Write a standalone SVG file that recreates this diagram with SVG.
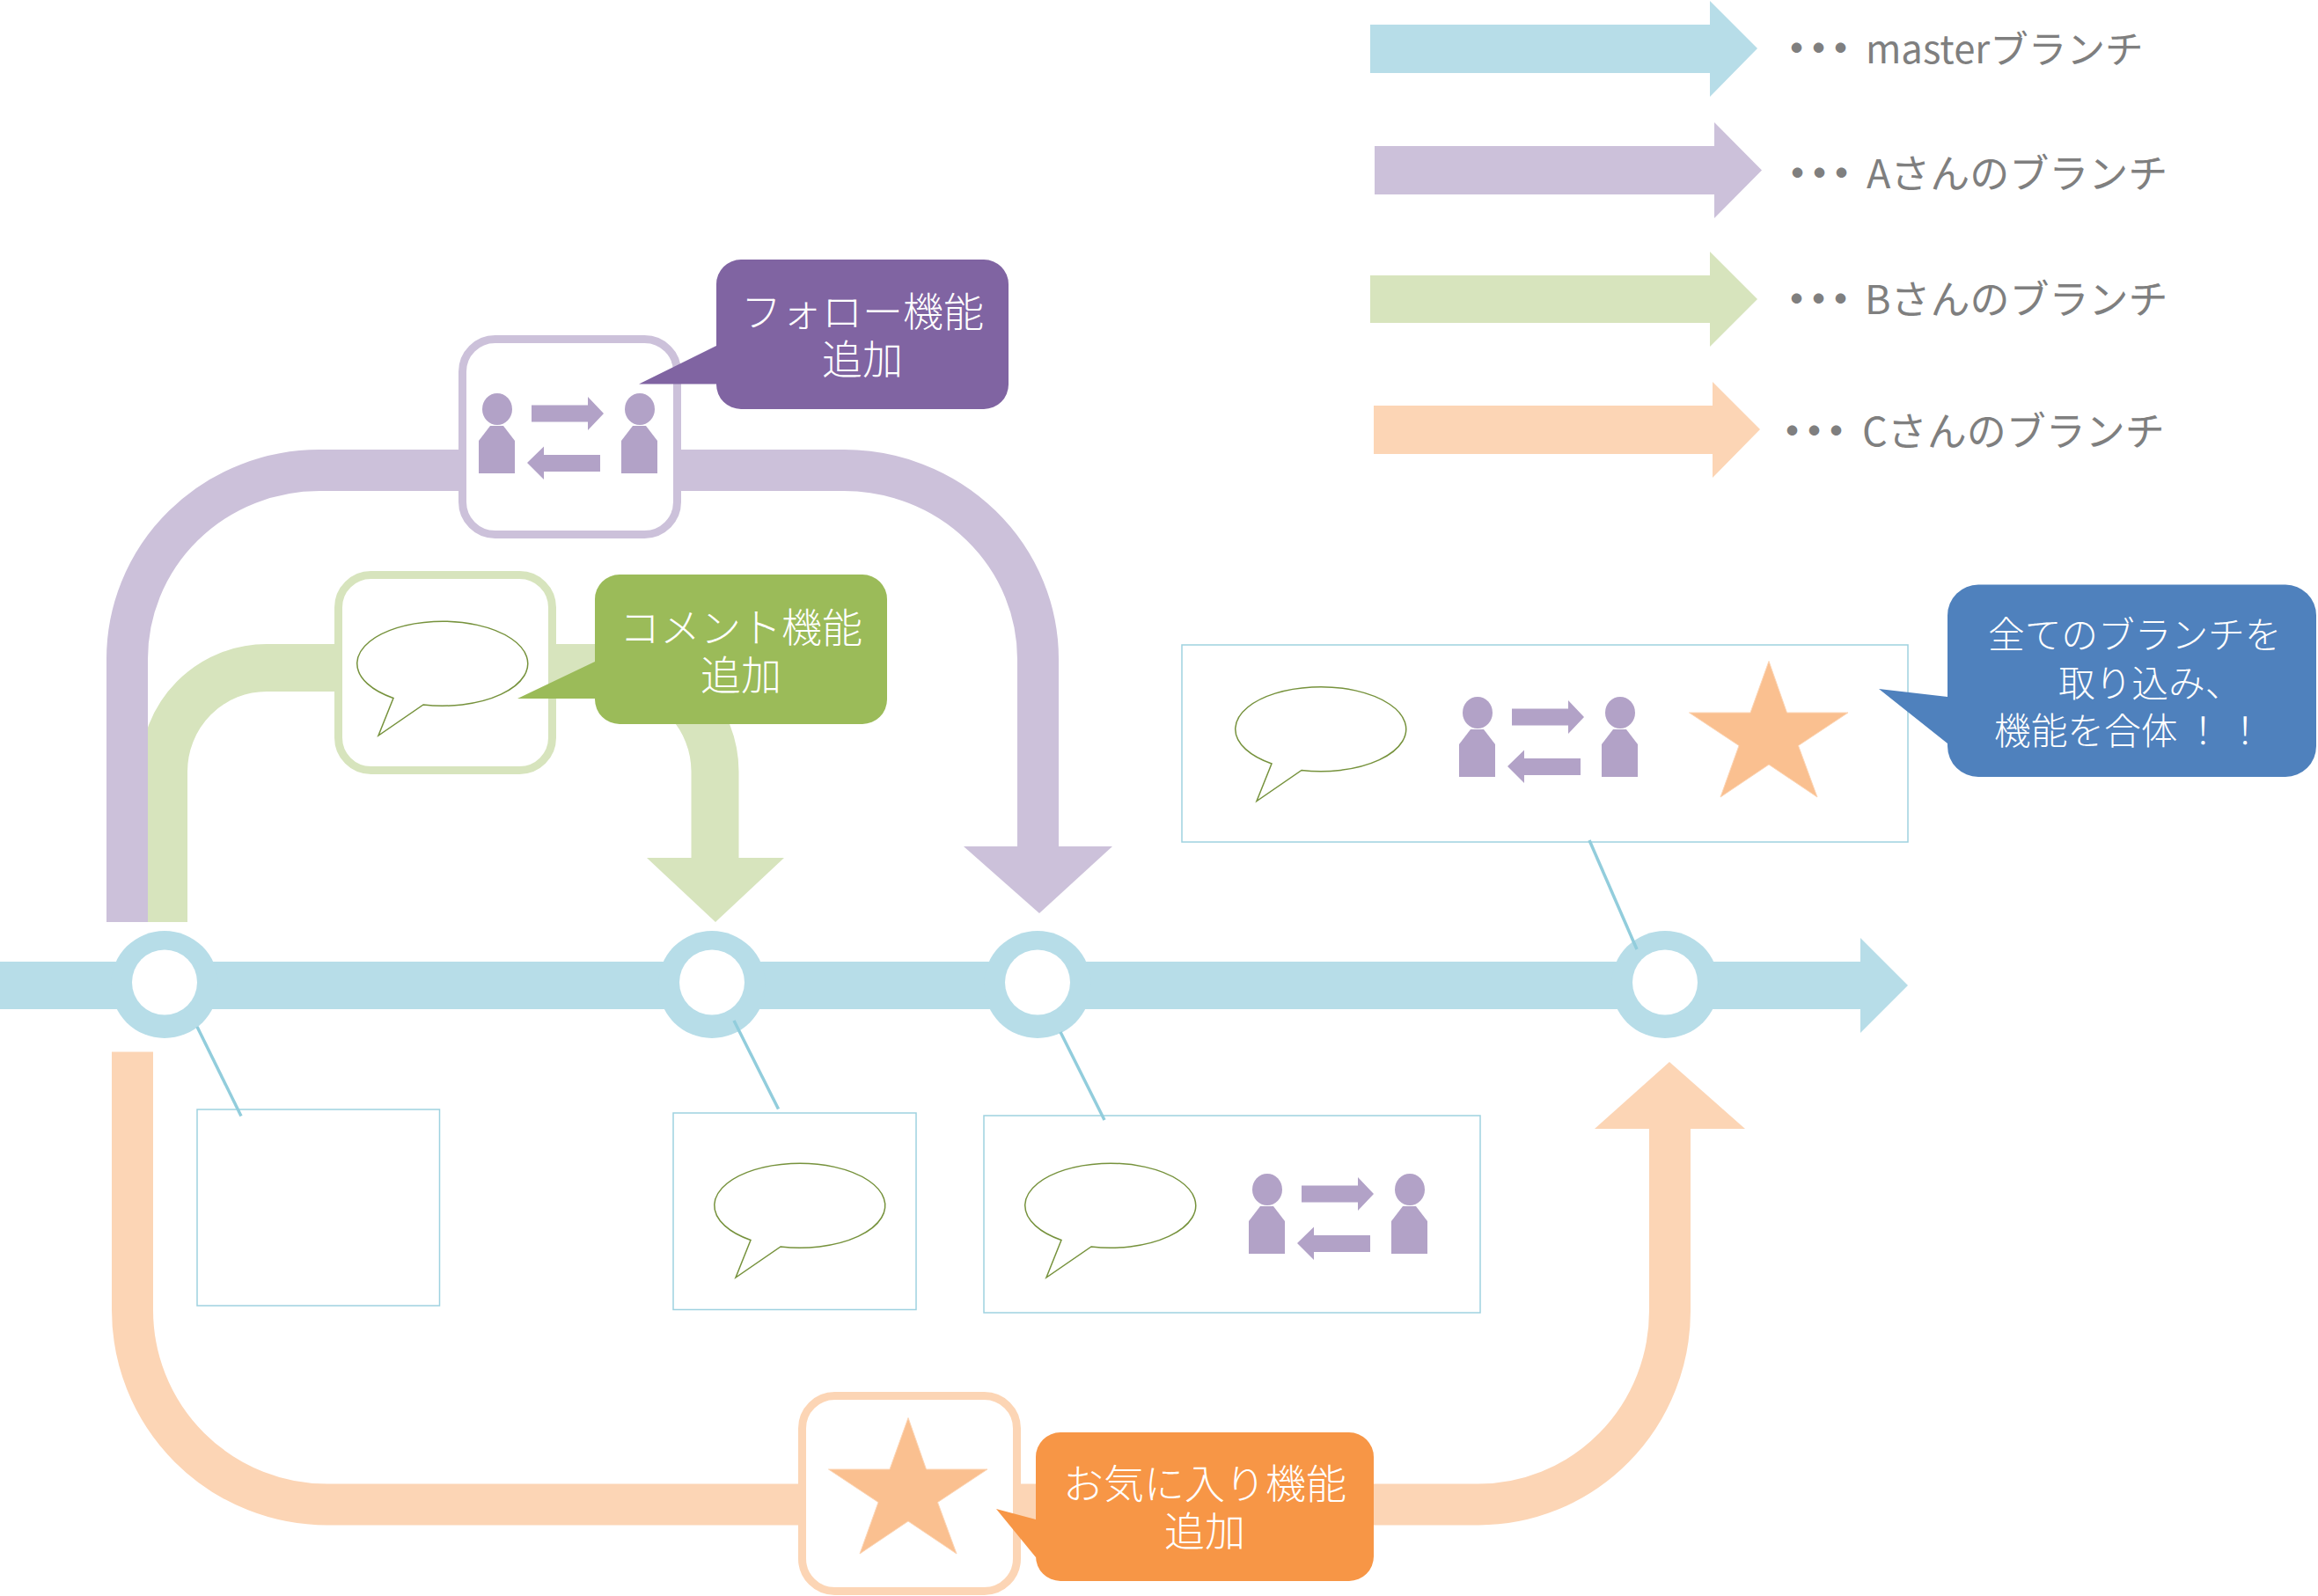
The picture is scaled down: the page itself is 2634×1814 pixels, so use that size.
<svg xmlns="http://www.w3.org/2000/svg" xmlns:xlink="http://www.w3.org/1999/xlink" width="2634" height="1814" viewBox="0 0 2634 1814">
<style>
text{font-family:"Noto Sans CJK JP","Noto Sans",sans-serif;font-weight:400}
.lg{font-size:45px;fill:#7f7f7f}
.lgm{font-size:43.600px}
.dots{font-weight:700}
.cw{font-size:46px;fill:#fff;text-anchor:middle;font-weight:300}
.bw{font-size:41.700px;fill:#fff;font-weight:300}
.route{fill:none}
.b{fill:#b7dde8}.p{fill:#ccc1da}.g{fill:#d7e4bd}.o{fill:#fcd5b5}
.white{fill:#fff}
.thin{fill:#fff;stroke:#9fd2e0;stroke-width:1.500}
.lead{stroke:#92cddc;stroke-width:3.500;fill:none}
.fbox{fill:#fff;stroke-width:9}
.bub{fill:#fff;stroke:#76923c;stroke-width:1.500}
.man{fill:#b2a2c7}
.star{fill:#fac090;stroke:#fcd5b5;stroke-width:1}
</style>
<defs>
<path id="bubble" class="bub" d="M447 793.500L430 836L481 801A97 48 0 1 0 447 793.500Z"/>
<g id="people" class="man">
<ellipse cx="565" cy="465" rx="17" ry="18"/>
<path d="M557 484H572L585 501V538H544V501Z"/>
<ellipse cx="727" cy="465" rx="17" ry="18"/>
<path d="M719 484H734L747 501V538H706V501Z"/>
<path d="M604 460.500H668V451L686 470L668 489V479.500H604Z"/>
<path d="M682 517H618V507.500L599 526L618 545V536H682Z"/>
</g>
<path id="star" class="star" d="M1032 1611.500L1052.500 1670H1122L1065.500 1707.500L1087 1766L1032 1729L977 1766L998 1707.500L941.500 1670H1011Z"/>
<g id="ring"><circle class="b" cx="0" cy="2" r="61"/><circle class="white" cx="0" cy="-0.500" r="37"/></g>
</defs>

<g id="legend">
<g id="legend-master"><path class="b" d="M1557 28H1943V1L1997 55L1943 110V83H1557Z"/>
<text class="lg" y="72"><tspan class="dots" x="2019 2044 2069">・・・</tspan><tspan class="lgm" x="2120">masterブランチ</tspan></text></g>
<g id="legend-a"><path class="p" d="M1562 166H1948V139L2002 193.500L1948 248V221H1562Z"/>
<text class="lg" y="214"><tspan class="dots" x="2020 2045 2070">・・・</tspan><tspan x="2121">Aさんのブランチ</tspan></text></g>
<g id="legend-b"><path class="g" d="M1557 313H1943V286L1997 340L1943 394V367H1557Z"/>
<text class="lg" y="357"><tspan class="dots" x="2019 2044 2069">・・・</tspan><tspan x="2119">Bさんのブランチ</tspan></text></g>
<g id="legend-c"><path class="o" d="M1561 461H1946V434L2000 488L1946 543V516H1561Z"/>
<text class="lg" y="507"><tspan class="dots" x="2014 2039 2064">・・・</tspan><tspan x="2116">Cさんのブランチ</tspan></text></g>
</g>

<g id="connectors">
<path id="master-line" class="b" d="M0 1093H2114V1066L2168 1120L2114 1174V1147H0Z"/>
<path id="branch-c" class="route" stroke="#fcd5b5" stroke-width="47" d="M150.500 1195.500V1489A221.500 221 0 0 0 372 1710H1680A217.500 220 0 0 0 1897.500 1490V1275"/>
<polygon class="o" points="1812,1283 1983,1283 1897,1207"/>
<path id="branch-b" class="route" stroke="#d7e4bd" stroke-width="54" d="M186 1048V877A117 118 0 0 1 303 759H695A117.500 118 0 0 1 812.500 877V985"/>
<polygon class="g" points="735,975 891,975 813,1048"/>
<path id="branch-a" class="route" stroke="#ccc1da" stroke-width="47" d="M144.500 1048V749A218.500 214.500 0 0 1 363 534.500H959A220.500 214.500 0 0 1 1179.500 749V970"/>
<polygon class="p" points="1095,962 1264,962 1181,1038"/>
</g>

<g id="commits">
<use id="commit-1" href="#ring" xlink:href="#ring" x="187" y="1117"/>
<use id="commit-2" href="#ring" xlink:href="#ring" x="809" y="1117"/>
<use id="commit-3" href="#ring" xlink:href="#ring" x="1179" y="1117"/>
<use id="commit-4" href="#ring" xlink:href="#ring" x="1892" y="1117"/>
</g>

<g id="snapshot-1"><rect class="thin" x="224" y="1261" width="275.500" height="223"/></g>
<g id="snapshot-2"><rect class="thin" x="765" y="1265" width="276" height="223.500"/><use href="#bubble" xlink:href="#bubble" x="406" y="616"/></g>
<g id="snapshot-3"><rect class="thin" x="1118" y="1268" width="564" height="224"/><use href="#bubble" xlink:href="#bubble" x="759" y="616"/><use href="#people" xlink:href="#people" x="875" y="887"/></g>
<g id="snapshot-4"><rect class="thin" x="1343" y="733" width="825" height="224"/><use href="#bubble" xlink:href="#bubble" x="998" y="74.500"/><use href="#people" xlink:href="#people" x="1114" y="345"/><use href="#star" xlink:href="#star" x="978" y="-860"/></g>

<g id="leaders">
<line class="lead" x1="224" y1="1167" x2="274" y2="1268.500"/>
<line class="lead" x1="834" y1="1160" x2="884.500" y2="1260.500"/>
<line class="lead" x1="1205" y1="1173" x2="1255" y2="1273"/>
<line class="lead" x1="1806" y1="955" x2="1860" y2="1079"/>
</g>

<g id="feature-follow"><rect class="fbox" stroke="#ccc1da" x="525.500" y="385.500" width="244" height="222" rx="37" ry="37"/><use href="#people" xlink:href="#people"/></g>
<g id="feature-comment"><rect class="fbox" stroke="#d7e4bd" x="384.500" y="653.500" width="243" height="222" rx="37" ry="37"/><use href="#bubble" xlink:href="#bubble"/></g>
<g id="feature-favorite"><rect class="fbox" stroke="#fcd5b5" x="911.500" y="1586.500" width="244" height="222" rx="37" ry="37"/><use href="#star" xlink:href="#star"/></g>

<g id="callout-follow"><path fill="#8064a2" d="M842 295H1118A28 28 0 0 1 1146 323V437A28 28 0 0 1 1118 465H842A28 28 0 0 1 814 437V436.500H726L814 393V323A28 28 0 0 1 842 295Z"/>
<text class="cw" x="980" y="371">フォロー機能</text><text class="cw" x="980" y="425">追加</text></g>
<g id="callout-comment"><path fill="#9bbb59" d="M704 653H980A28 28 0 0 1 1008 681V795A28 28 0 0 1 980 823H704A28 28 0 0 1 676 795V794H588L676 752V681A28 28 0 0 1 704 653Z"/>
<text class="cw" x="842" y="730">コメント機能</text><text class="cw" x="842" y="784">追加</text></g>
<g id="callout-merge"><path fill="#4f81bd" d="M2248 664.500H2597A35 35 0 0 1 2632 699.500V848A35 35 0 0 1 2597 883H2248A35 35 0 0 1 2213 848V845L2135 783L2213 792V699.500A35 35 0 0 1 2248 664.500Z"/>
<text class="bw" y="737" x="2259">全てのブランチを</text><text class="bw" y="792" x="2339">取り込み、</text><text class="bw" y="846" x="2266">機能を合体<tspan dx="8">！</tspan><tspan dx="6">！</tspan></text></g>
<g id="callout-favorite"><path fill="#f79646" d="M1205 1628H1533A28 28 0 0 1 1561 1656V1769A28 28 0 0 1 1533 1797H1205A28 28 0 0 1 1177 1769V1770L1132 1715L1177 1727V1656A28 28 0 0 1 1205 1628Z"/>
<text class="cw" x="1369" y="1703">お気に入り機能</text><text class="cw" x="1369" y="1757">追加</text></g>
</svg>
